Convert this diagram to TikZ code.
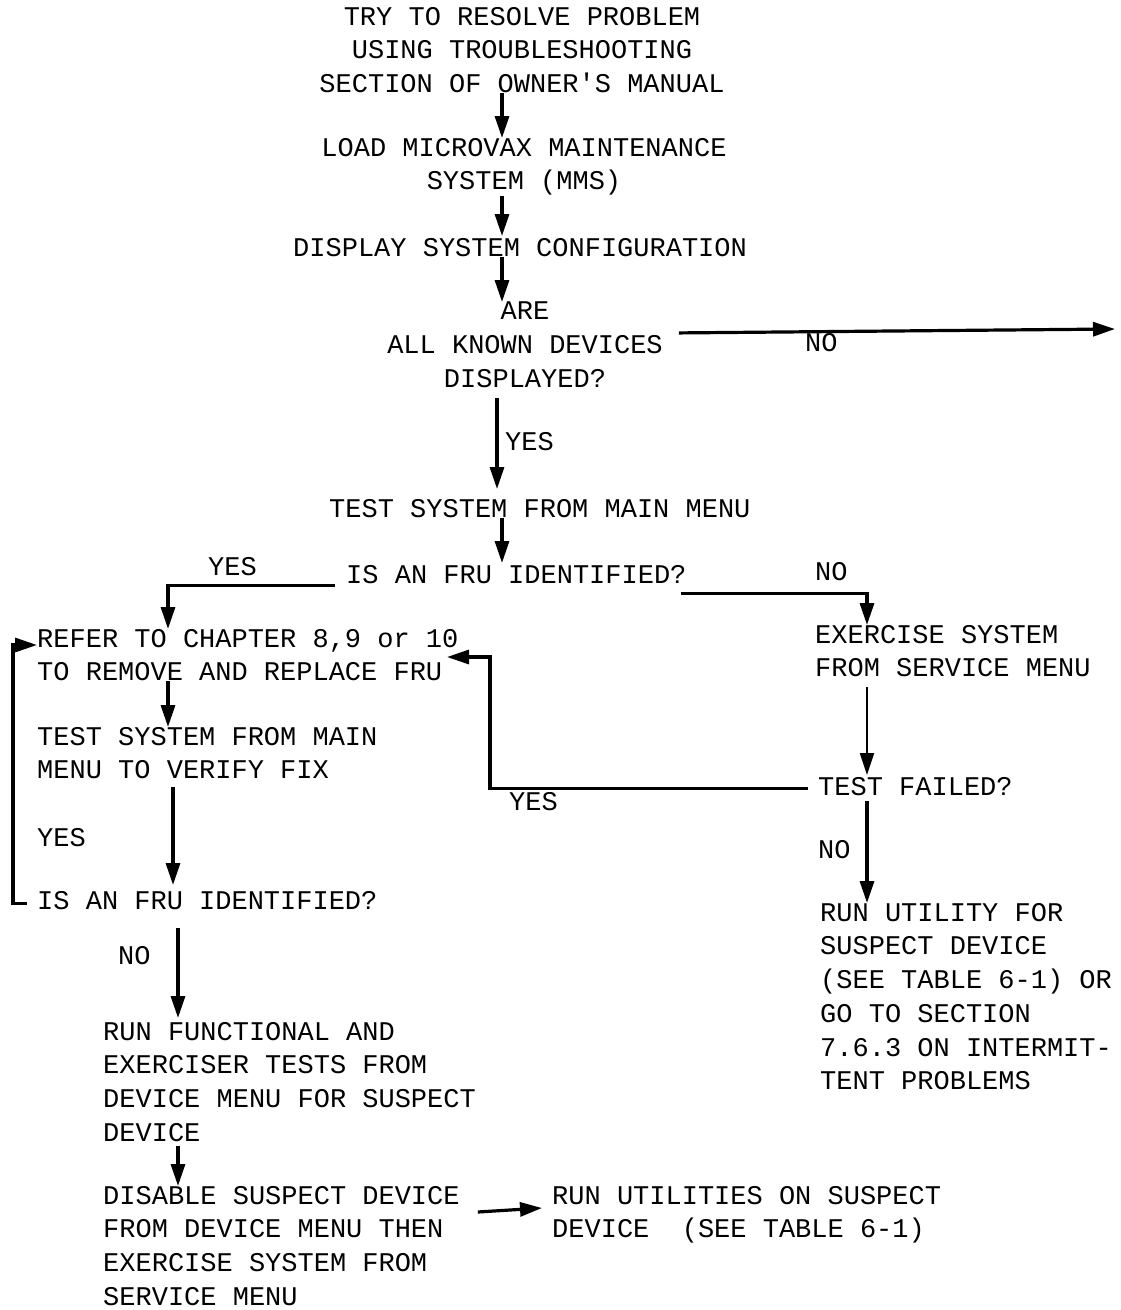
\documentclass[tikz,border=0pt]{standalone}
\usepackage{fontspec}
\newfontfamily\tw[WordSpace={1,0,0}]{Liberation Mono}
\usetikzlibrary{arrows.meta,calc}
\begin{document}
\begin{tikzpicture}[x=1pt,y=-1pt,
  txt/.style={font=\tw\fontsize{27}{33.7}\selectfont, align=left, inner sep=0pt, anchor=north west, execute at begin node={\rule{0pt}{20pt}}},
  ctxt/.style={txt, align=center, anchor=north},
  lab/.style={font=\tw\fontsize{27}{33.7}\selectfont, inner sep=0pt, anchor=west},
  arr/.style={line width=3.2pt, -{Triangle[length=22pt,width=14pt]}}]
\fill[white] (0,0) rectangle (1120,1310);
\useasboundingbox (0,0) rectangle (1120,1310);

\coordinate (sp) at (502,0);
\coordinate (ycol) at (168,0);
\coordinate (lcol) at (173,0);
\coordinate (fcol) at (178,0);
\coordinate (rcol) at (867,0);
\coordinate (noend) at (1115,329);

% nodes
\node[ctxt] (t1) at (522,7) {TRY TO RESOLVE PROBLEM\\USING TROUBLESHOOTING\\SECTION OF OWNER'S MANUAL};
\node[ctxt] (t2) at (524,138) {LOAD MICROVAX MAINTENANCE\\SYSTEM (MMS)};
\node[txt] (t3) at (293,236) {DISPLAY SYSTEM CONFIGURATION};
\node[ctxt] (q1) at (525,302) {ARE\\ALL KNOWN DEVICES\\DISPLAYED?};
\node[txt] (t4) at (329,497) {TEST SYSTEM FROM MAIN MENU};
\node[txt] (q2) at (346,563) {IS AN FRU IDENTIFIED?};
\node[txt] (r1) at (37,629) {REFER TO CHAPTER 8,9 or 10\\TO REMOVE AND REPLACE FRU};
\node[txt] (t5) at (37,727) {TEST SYSTEM FROM MAIN\\MENU TO VERIFY FIX};
\node[txt] (q3) at (37,889) {IS AN FRU IDENTIFIED?};
\node[txt] (f1) at (103,1022) {RUN FUNCTIONAL AND\\EXERCISER TESTS FROM\\DEVICE MENU FOR SUSPECT\\DEVICE};
\node[txt] (d1) at (103,1186) {DISABLE SUSPECT DEVICE\\FROM DEVICE MENU THEN\\EXERCISE SYSTEM FROM\\SERVICE MENU};
\node[txt] (u1) at (552,1186) {RUN UTILITIES ON SUSPECT\\DEVICE\ \ (SEE TABLE 6-1)};
\node[txt] (e1) at (815,625) {EXERCISE SYSTEM\\FROM SERVICE MENU};
\node[txt] (q4) at (818,775) {TEST FAILED?};
\node[txt] (u2) at (820,903) {RUN UTILITY FOR\\SUSPECT DEVICE\\(SEE TABLE 6-1) OR\\GO TO SECTION\\7.6.3 ON INTERMIT-\\TENT PROBLEMS};

% labels
\node[lab] (lno1) at (805,343) {NO};
\node[lab] (lyes1) at (505,442) {YES};
\node[lab] (lyes2) at (208,567) {YES};
\node[lab] (lno2) at (815,572) {NO};
\node[lab] (lyes3) at (37,838) {YES};
\node[lab] (lno3) at (118,956) {NO};
\node[lab] (lyes4) at (509,802) {YES};
\node[lab] (lno4) at (818,850) {NO};

% connectors
\draw[arr] (t1.south -| sp) -- (t2.north -| sp);
\draw[arr] (t2.south -| sp) -- (t3.north -| sp);
\draw[arr] (t3.south -| sp) -- (q1.north -| sp);
\draw[arr] ([xshift=16pt,yshift=12pt]q1.east) -- (noend);
\draw[arr, shorten <=10pt, shorten >=8pt] (q1.south -| 497,0) -- (t4.north -| 497,0);
\draw[arr] (t4.south -| sp) -- (q2.north -| sp);
\draw[arr] ([xshift=-11pt,yshift=-12pt]q2.west) -| (r1.north -| ycol);
\draw[arr] ([xshift=-6pt,yshift=-20pt]q2.east) -| (e1.north -| rcol);
\draw[arr] (r1.south -| ycol) -- (t5.north -| ycol);
\draw[arr, shorten <=8pt, shorten >=4pt] (t5.south -| lcol) -- (q3.north -| lcol);
\draw[arr] ([xshift=-10pt,yshift=-4pt]q3.west) -- ++(-14,0) |- ([yshift=-16pt]r1.north west);
\draw[arr, shorten <=18pt, shorten >=4pt] (q3.south -| fcol) -- (f1.north -| fcol);
\draw[arr, shorten <=4pt] (f1.south -| fcol) -- (d1.north -| fcol);
\draw[arr] ([xshift=18pt,yshift=-26pt]d1.north east) -- ([xshift=-10pt,yshift=-22pt]u1.north west);
\draw[arr, line width=2.2pt, shorten <=10pt] (e1.south -| rcol) -- (q4.north -| rcol);
\draw[arr] ([xshift=-10pt,yshift=-3pt]q4.west) -| ($(r1.north west)+(453,28)$) -- ($(r1.north west)+(410,28)$);
\draw[arr, shorten <=5pt] (q4.south -| rcol) -- (u2.north -| rcol);
\end{tikzpicture}
\end{document}
